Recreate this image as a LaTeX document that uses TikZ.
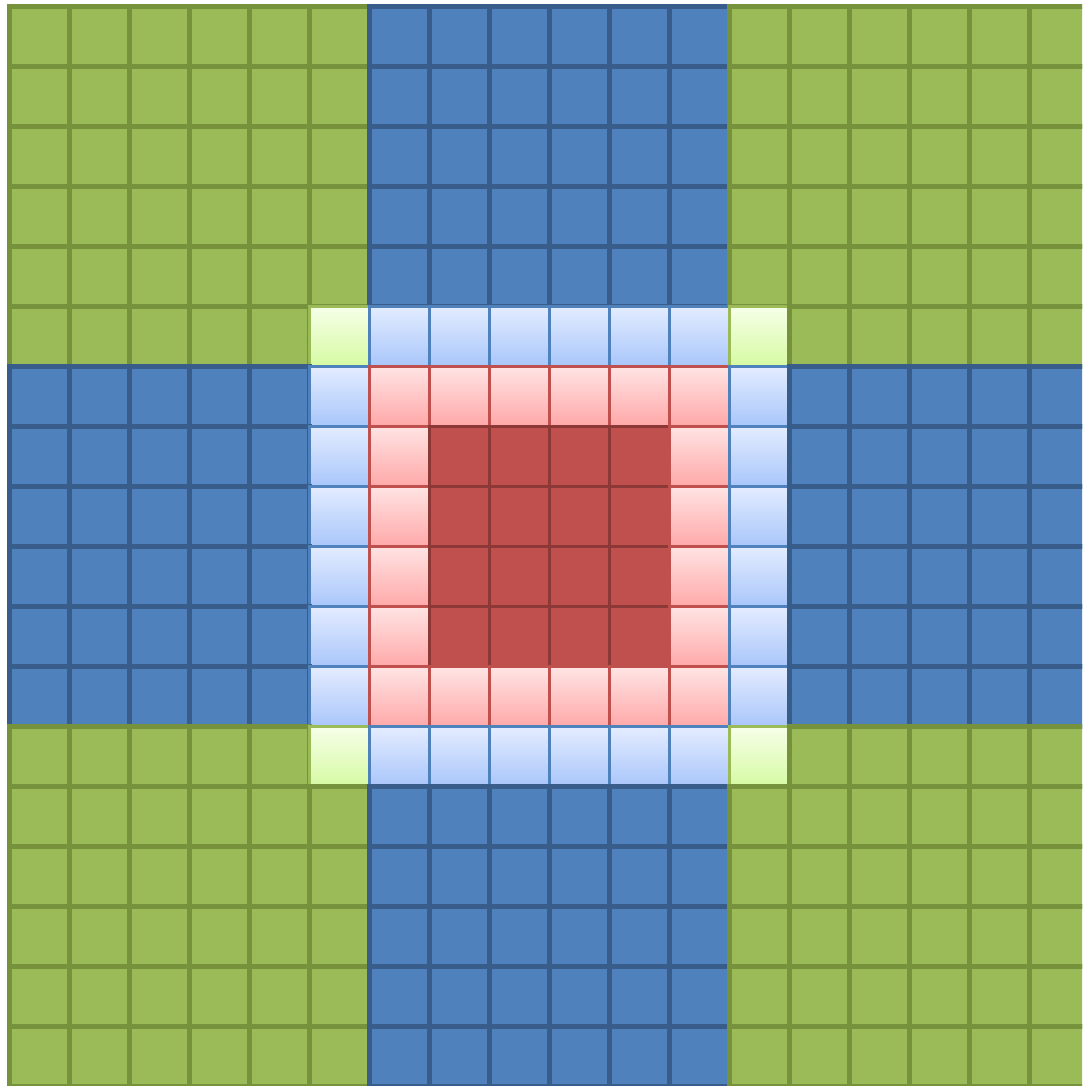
\documentclass[tikz,border=0pt]{standalone}
\definecolor{gfill}{RGB}{155,187,89}
\definecolor{gline}{RGB}{118,146,60}
\definecolor{bfill}{RGB}{79,129,189}
\definecolor{bline}{RGB}{56,93,138}
\definecolor{rfill}{RGB}{192,80,77}
\definecolor{rline}{RGB}{140,56,54}
\definecolor{lbtop}{RGB}{228,236,255}
\definecolor{lbbot}{RGB}{168,198,250}
\definecolor{pktop}{RGB}{255,228,228}
\definecolor{pkbot}{RGB}{255,168,168}
\definecolor{lgtop}{RGB}{246,255,232}
\definecolor{lgbot}{RGB}{214,250,162}
\begin{document}
\begin{tikzpicture}[x=1pt,y=-1pt,
  gcell/.style={fill=gfill,draw=gline,line width=5pt},
  bcell/.style={fill=bfill,draw=bline,line width=5pt},
  rcell/.style={fill=rfill,draw=rline,line width=3pt},
  lbcell/.style={top color=lbtop,bottom color=lbbot,draw=bfill,line width=3pt},
  pkcell/.style={top color=pktop,bottom color=pkbot,draw=rfill,line width=3pt},
  lgcell/.style={top color=lgtop,bottom color=lgbot,draw=gfill,line width=3pt}]
\useasboundingbox (0,0) rectangle (1082,1086);
\clip (0,0) rectangle (1082,1086);
\fill[white] (0,0) rectangle (1082,1086);
\newcommand{\gcellat}[3]{\draw[#3] ({9.5+60*#1},{6.5+60*#2}) rectangle ++(60,60);}
\foreach \r in {0,...,17}{%
  \foreach \c in {0,...,17}{%
    \pgfmathtruncatemacro{\ar}{(\r>=6 && \r<=11) ? 2 : ((\r==5 || \r==12) ? 1 : 0)}%
    \pgfmathtruncatemacro{\ac}{(\c>=6 && \c<=11) ? 2 : ((\c==5 || \c==12) ? 1 : 0)}%
    \pgfmathtruncatemacro{\hi}{max(\ar,\ac)}%
    \pgfmathtruncatemacro{\lo}{min(\ar,\ac)}%
    \pgfmathtruncatemacro{\core}{(\r>=7 && \r<=10 && \c>=7 && \c<=10) ? 5 : 4}%
    \pgfmathtruncatemacro{\k}{(\hi==2) ? ((\lo==0) ? 2 : ((\lo==1) ? 3 : \core)) : ((\lo==1) ? 1 : 0)}%
    \ifcase\k \gcellat{\c}{\r}{gcell}%
    \or \gcellat{\c}{\r}{lgcell}%
    \or \gcellat{\c}{\r}{bcell}%
    \or \gcellat{\c}{\r}{lbcell}%
    \or \gcellat{\c}{\r}{pkcell}%
    \or \gcellat{\c}{\r}{rcell}%
    \fi
  }%
}
\end{tikzpicture}
\end{document}
